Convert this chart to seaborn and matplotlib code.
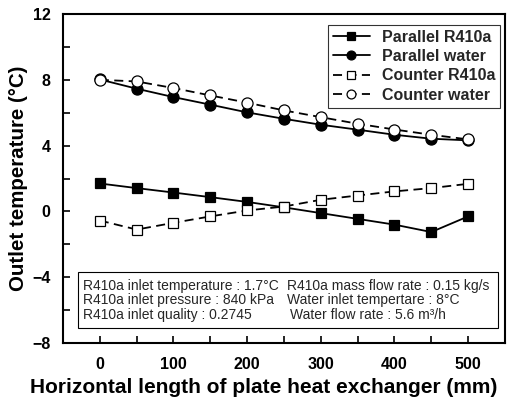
import matplotlib
matplotlib.use("Agg")
import matplotlib.pyplot as plt
import seaborn as sns
import pandas as pd
from matplotlib.ticker import MultipleLocator
from matplotlib.patches import Rectangle

sns.set_style("ticks")
plt.rcParams['font.family'] = ['Liberation Sans', 'DejaVu Sans']

length_mm = [0, 50, 100, 150, 200, 250, 300, 350, 400, 450, 500]
parallel_r410a = [1.7, 1.42, 1.15, 0.87, 0.58, 0.25, -0.1, -0.45, -0.8, -1.25, -0.3]
parallel_water = [8.02, 7.46, 6.95, 6.49, 6.02, 5.63, 5.27, 4.97, 4.66, 4.42, 4.32]
counter_r410a = [-0.55, -1.1, -0.69, -0.3, 0.06, 0.3, 0.71, 0.97, 1.22, 1.42, 1.68]
counter_water = [8.0, 7.9, 7.5, 7.05, 6.61, 6.14, 5.73, 5.33, 4.98, 4.66, 4.38]

series = [
    ("Parallel R410a", parallel_r410a, "s", "black", "-"),
    ("Parallel water", parallel_water, "o", "black", "-"),
    ("Counter R410a", counter_r410a, "s", "white", "--"),
    ("Counter water", counter_water, "o", "white", "--"),
]

fig = plt.figure(figsize=(5.08, 3.99), dpi=100)
ax = fig.add_axes([0.124, 0.140, 0.870, 0.825])

for name, vals, mk, fc, ls in series:
    df = pd.DataFrame({"x": length_mm, "y": vals})
    sns.lineplot(data=df, x="x", y="y", ax=ax, color="black", linewidth=1.3,
                 linestyle=ls, marker=mk, markersize=8 if mk == "o" else 7.5,
                 markerfacecolor=fc, markeredgecolor="black", markeredgewidth=0.9,
                 label=name)
for line in ax.get_lines():
    if line.get_linestyle() == '--':
        line.set_dashes((5, 3))

ax.set_xlim(-50, 550)
ax.set_ylim(-8, 12)
ax.xaxis.set_major_locator(MultipleLocator(100))
ax.xaxis.set_minor_locator(MultipleLocator(50))
ax.yaxis.set_major_locator(MultipleLocator(4))
ax.yaxis.set_minor_locator(MultipleLocator(2))
ax.tick_params(axis='both', which='both', direction='in', top=False, right=False,
               color='black', labelcolor='black')
ax.tick_params(which='major', length=5, width=1.2, labelsize=11.5)
ax.tick_params(axis='x', which='major', pad=10)
ax.tick_params(axis='y', which='major', pad=9)
ax.tick_params(which='minor', length=5, width=1.2)
for lab in ax.get_xticklabels() + ax.get_yticklabels():
    lab.set_fontweight('bold')
for sp in ax.spines.values():
    sp.set_linewidth(1.5)
    sp.set_edgecolor('black')

ax.set_xlabel("Horizontal length of plate heat exchanger (mm)", fontsize=15,
              fontweight='bold', color='black')
ax.xaxis.set_label_coords(0.455, -0.105)
ax.set_ylabel("Outlet temperature (°C)", fontsize=14.8,
              fontweight='bold', labelpad=3, color='black')

leg = ax.legend(loc='upper right', bbox_to_anchor=(0.996, 0.977), frameon=True, fancybox=False,
                edgecolor='black', prop={'weight': 'bold', 'size': 11.5}, handlelength=2.3,
                borderpad=0.3, labelspacing=0.28, handletextpad=0.75, borderaxespad=0.2,
                markerscale=0.8)
leg.get_frame().set_linewidth(0.8)

ax.add_patch(Rectangle((0.034, 0.047), 0.95, 0.17, transform=ax.transAxes,
                       fill=False, edgecolor='black', linewidth=0.8))
left_lines = ["R410a inlet temperature : 1.7°C",
              "R410a inlet pressure : 840 kPa",
              "R410a inlet quality : 0.2745"]
right_lines = ["R410a mass flow rate : 0.15 kg/s",
               "Water inlet tempertare : 8°C",
               "Water flow rate : 5.6 m³/h"]
right_x = [0.507, 0.507, 0.514]
ys = [0.161, 0.1185, 0.074]
for y, l, r, rx in zip(ys, left_lines, right_lines, right_x):
    ax.text(0.045, y, l, transform=ax.transAxes, fontsize=10, va='baseline')
    ax.text(rx, y, r, transform=ax.transAxes, fontsize=10, va='baseline')

fig.savefig("out.png", dpi=100)
